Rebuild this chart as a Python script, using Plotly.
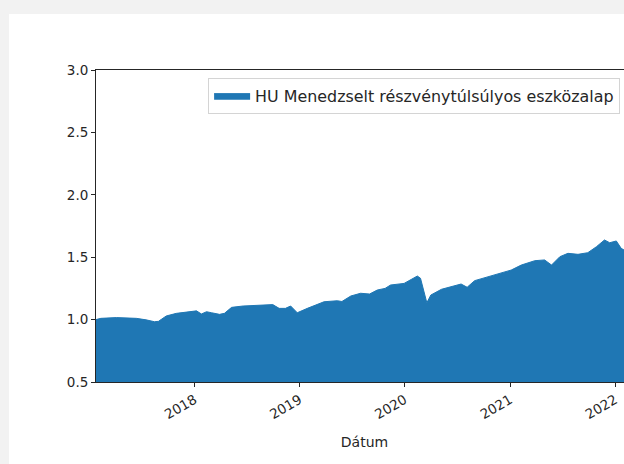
import plotly.graph_objects as go

# ---- data ----
dates = [
    "2017-01-24", "2017-02-10", "2017-04-05", "2017-06-13", "2017-07-17", "2017-08-15",
    "2017-08-29", "2017-09-25", "2017-10-30", "2017-12-04", "2018-01-08", "2018-01-25",
    "2018-02-12", "2018-03-01", "2018-03-29", "2018-04-15", "2018-05-10", "2018-06-19",
    "2018-08-04", "2018-09-30", "2018-10-22", "2018-11-13", "2018-12-01", "2018-12-24",
    "2019-01-28", "2019-03-27", "2019-05-12", "2019-05-28", "2019-06-28", "2019-08-01",
    "2019-09-01", "2019-09-28", "2019-10-25", "2019-11-13", "2019-12-30", "2020-01-22",
    "2020-02-14", "2020-02-25", "2020-03-08", "2020-03-18", "2020-04-01", "2020-05-08",
    "2020-07-15", "2020-08-05", "2020-08-31", "2020-10-16", "2020-11-20", "2021-01-05",
    "2021-02-09", "2021-03-28", "2021-05-01", "2021-05-25", "2021-06-23", "2021-07-21",
    "2021-08-25", "2021-09-28", "2021-10-28", "2021-11-25", "2021-12-13", "2022-01-05",
    "2022-01-22", "2022-02-05", "2022-03-04",
]
values = [
    1.000, 1.010, 1.016, 1.010, 0.998, 0.983,
    0.986, 1.029, 1.050, 1.058, 1.070, 1.045,
    1.063, 1.055, 1.042, 1.050, 1.098, 1.109,
    1.114, 1.120, 1.090, 1.090, 1.109, 1.055,
    1.090, 1.143, 1.151, 1.145, 1.189, 1.211,
    1.205, 1.237, 1.250, 1.277, 1.290, 1.317,
    1.349, 1.331, 1.224, 1.135, 1.197, 1.243,
    1.285, 1.259, 1.312, 1.344, 1.371, 1.397,
    1.437, 1.472, 1.478, 1.437, 1.504, 1.531,
    1.523, 1.536, 1.584, 1.638, 1.616, 1.630,
    1.571, 1.552, 1.540,
]
series_name = "HU Menedzselt részvénytúlsúlyos eszközalap"
x_title = "Dátum"
y_ticks = [0.5, 1.0, 1.5, 2.0, 2.5, 3.0]
x_ticks = ["2018-01-01", "2019-01-01", "2020-01-01", "2021-01-01", "2022-01-01"]
x_ticklabels = ["2018", "2019", "2020", "2021", "2022"]

BLUE = "#1f77b4"
FONT = "DejaVu Sans"
INK = "#262626"

fig = go.Figure()
fig.add_trace(go.Scatter(
    x=dates, y=values, name=series_name, mode="lines",
    fill="tozeroy", fillcolor=BLUE,
    line=dict(color=BLUE, width=1),
))

W, H = 700, 450
fig.update_layout(
    width=W, height=H,
    margin=dict(l=87, r=W - 624, t=56, b=82),
    paper_bgcolor="white", plot_bgcolor="white",
    font=dict(family=FONT, size=13, color=INK),
    showlegend=True,
    legend=dict(
        x=0.976, y=0.975, xanchor="right", yanchor="top",
        bgcolor="white", bordercolor="#d4d4d4", borderwidth=1,
        font=dict(family=FONT, size=15.9, color=INK),
        itemwidth=36, tracegroupgap=0,
    ),
    xaxis=dict(
        range=[dates[0], dates[-1]],
        tickvals=x_ticks, ticktext=x_ticklabels, tickangle=-30,
        ticks="outside", ticklen=4, tickcolor=INK,
        tickfont=dict(family=FONT, size=13.5, color=INK),
        showline=True, linecolor=INK, linewidth=1, mirror=True,
        showgrid=False, zeroline=False,
        title=dict(text=x_title, font=dict(family=FONT, size=14, color=INK), standoff=16),
    ),
    yaxis=dict(
        range=[0.5, 3.0], tickvals=y_ticks, tickformat=".1f",
        ticks="outside", ticklen=4, tickcolor=INK,
        tickfont=dict(family=FONT, size=13.5, color=INK),
        showline=True, linecolor=INK, linewidth=1, mirror=True,
        showgrid=False, zeroline=False,
    ),
)

post = (
    "document.documentElement.style.overflow='hidden';"
    "document.body.style.overflow='hidden';"
    "document.body.style.margin='14px 0 0 9px';"
    "document.documentElement.style.background='#f2f2f2';"
    "document.body.style.background='#f2f2f2';"
)
fig.write_html("out.html", post_script=post)
